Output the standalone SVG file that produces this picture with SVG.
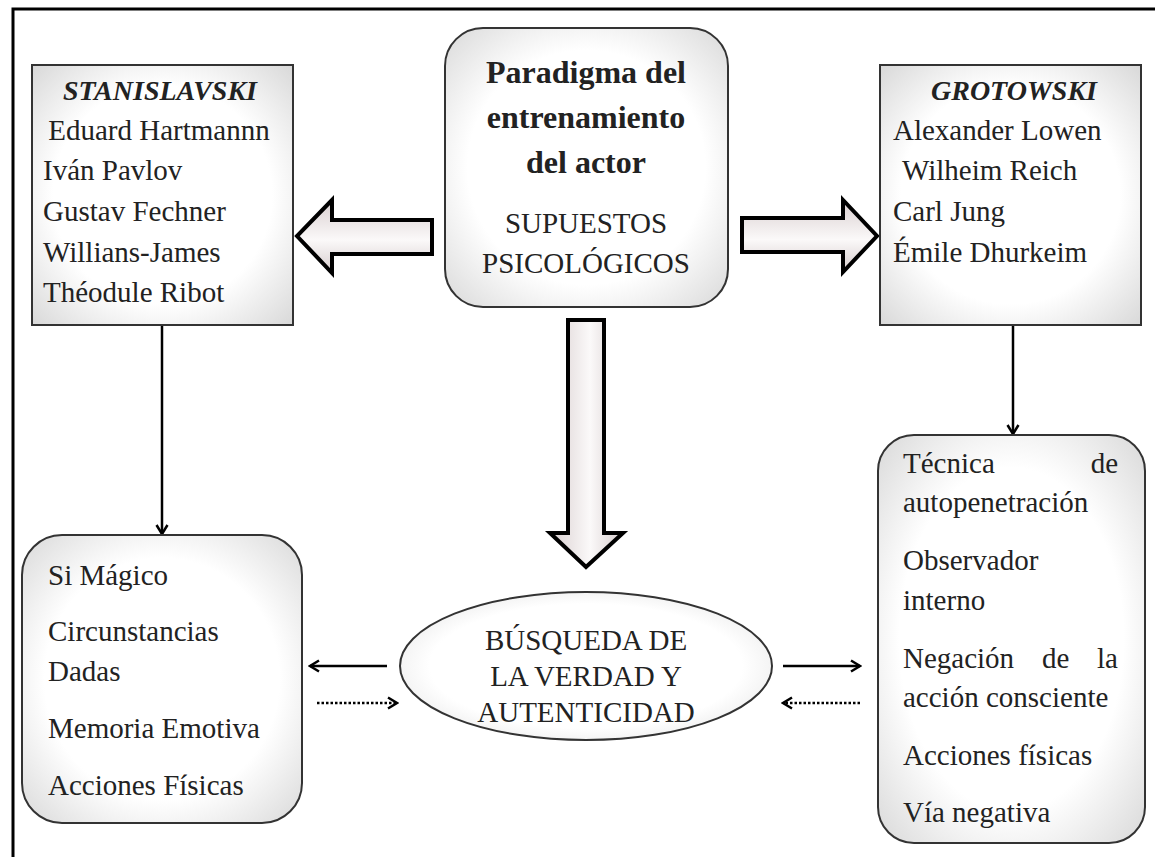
<svg xmlns="http://www.w3.org/2000/svg" width="1155" height="857" viewBox="0 0 1155 857">
<defs>
<style>
.t{font-family:"Liberation Serif","Times New Roman",serif;font-size:29px;fill:#222}
.b{font-weight:bold;font-size:32px}
.bi{font-weight:bold;font-style:italic;font-size:28px}
.box{stroke:#333;stroke-width:2;fill:url(#glow)}
.blk{stroke:#000;stroke-width:4;stroke-linejoin:miter}
.con{stroke:#000;stroke-width:2.5;fill:none}
.dot{stroke:#000;stroke-width:2.5;fill:none;stroke-dasharray:2.5 2}
</style>
<radialGradient id="glow" cx="50%" cy="50%" r="70%">
<stop offset="0.6" stop-color="#ffffff"/>
<stop offset="1" stop-color="#d9d9d9"/>
</radialGradient>
<linearGradient id="hg" x1="0" y1="0" x2="0" y2="1">
<stop offset="0" stop-color="#d9cfd0"/>
<stop offset="0.55" stop-color="#fbf9f9"/>
<stop offset="1" stop-color="#d6cccd"/>
</linearGradient>
<linearGradient id="vg" x1="0" y1="0" x2="1" y2="0">
<stop offset="0" stop-color="#d9cfd0"/>
<stop offset="0.55" stop-color="#fbf9f9"/>
<stop offset="1" stop-color="#d6cccd"/>
</linearGradient>
<marker id="ah" viewBox="0 0 14 14" refX="12" refY="7" markerWidth="14" markerHeight="14" markerUnits="userSpaceOnUse" orient="auto">
<path d="M3,1.5 L12,7 L3,12.5" fill="none" stroke="#000" stroke-width="2.5"/>
</marker>
</defs>
<rect width="1155" height="857" fill="#fff"/>
<rect id="frame" x="13" y="9" width="1150" height="860" fill="none" stroke="#000" stroke-width="3"/>

<g id="connectors">
<path class="blk" fill="url(#hg)" d="M432,220 L332,220 L332,200 L297,236 L332,273 L332,254 L432,254 Z"/>
<path class="blk" fill="url(#hg)" d="M742,218 L843,218 L843,200 L877,236 L843,272 L843,252 L742,252 Z"/>
<path class="blk" fill="url(#vg)" d="M568,320 L604,320 L604,533 L623,533 L586,567 L550,533 L568,533 Z"/>
<line class="con" x1="162" y1="326" x2="162" y2="534" marker-end="url(#ah)"/>
<line class="con" x1="1013" y1="326" x2="1013" y2="434" marker-end="url(#ah)"/>
<line class="con" x1="387" y1="666" x2="310" y2="666" marker-end="url(#ah)"/>
<line class="dot" x1="317" y1="703" x2="397" y2="703" marker-end="url(#ah)"/>
<line class="con" x1="783" y1="666" x2="860" y2="666" marker-end="url(#ah)"/>
<line class="dot" x1="860" y1="703" x2="783" y2="703" marker-end="url(#ah)"/>
</g>

<g id="stanislavski">
<rect class="box" x="32" y="65" width="261" height="260"/>
<text class="t bi" x="160" y="100" text-anchor="middle">STANISLAVSKI</text>
<text class="t" x="159" y="140" text-anchor="middle">Eduard Hartmannn</text>
<text class="t" x="43" y="180">Iván Pavlov</text>
<text class="t" x="43" y="221">Gustav Fechner</text>
<text class="t" x="43" y="262">Willians-James</text>
<text class="t" x="43" y="302">Théodule Ribot</text>
</g>

<g id="paradigma">
<rect class="box" x="445" y="28" width="283" height="279" rx="38"/>
<text class="t b" x="586" y="83" text-anchor="middle">Paradigma del</text>
<text class="t b" x="586" y="128" text-anchor="middle">entrenamiento</text>
<text class="t b" x="586" y="173" text-anchor="middle">del actor</text>
<text class="t" x="586" y="233" text-anchor="middle">SUPUESTOS</text>
<text class="t" x="586" y="273" text-anchor="middle">PSICOLÓGICOS</text>
</g>

<g id="grotowski">
<rect class="box" x="880" y="65" width="261" height="260"/>
<text class="t bi" x="1014" y="100" text-anchor="middle">GROTOWSKI</text>
<text class="t" x="893" y="140">Alexander Lowen</text>
<text class="t" x="902" y="180">Wilheim Reich</text>
<text class="t" x="893" y="221">Carl Jung</text>
<text class="t" x="893" y="262">Émile Dhurkeim</text>
</g>

<g id="stanislavski-tecnicas">
<rect class="box" x="22" y="535" width="280" height="288" rx="40"/>
<text class="t" x="48" y="585">Si Mágico</text>
<text class="t" x="48" y="641">Circunstancias</text>
<text class="t" x="48" y="681">Dadas</text>
<text class="t" x="48" y="738">Memoria Emotiva</text>
<text class="t" x="48" y="795">Acciones Físicas</text>
</g>

<g id="busqueda">
<ellipse class="box" cx="586" cy="666" rx="186" ry="74"/>
<text class="t" x="586" y="650" text-anchor="middle">BÚSQUEDA DE</text>
<text class="t" x="586" y="686" text-anchor="middle">LA VERDAD Y</text>
<text class="t" x="586" y="722" text-anchor="middle">AUTENTICIDAD</text>
</g>

<g id="grotowski-tecnicas">
<rect class="box" x="878" y="435" width="267" height="408" rx="36"/>
<text class="t" x="903" y="473">Técnica</text>
<text class="t" x="1118" y="473" text-anchor="end">de</text>
<text class="t" x="903" y="512">autopenetración</text>
<text class="t" x="903" y="570">Observador</text>
<text class="t" x="903" y="610">interno</text>
<text class="t" x="903" y="668">Negación</text>
<text class="t" x="1042" y="668">de</text>
<text class="t" x="1118" y="668" text-anchor="end">la</text>
<text class="t" x="903" y="707">acción consciente</text>
<text class="t" x="903" y="765">Acciones físicas</text>
<text class="t" x="903" y="822">Vía negativa</text>
</g>
</svg>
